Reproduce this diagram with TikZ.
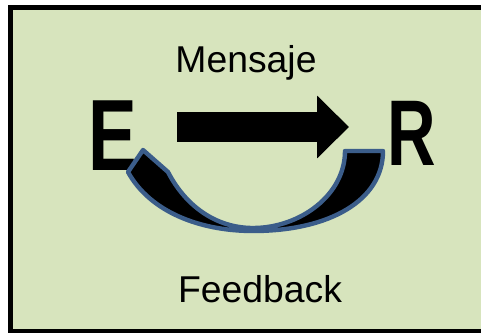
\documentclass[tikz,border=0pt]{standalone}
\usepackage{fontspec}
\setmainfont{Liberation Sans}
\usepackage{tikz}
\usetikzlibrary{arrows.meta}
\definecolor{paleolive}{RGB}{215,228,189}
\definecolor{steelblue}{RGB}{59,93,138}

\begin{document}
\begin{tikzpicture}[x=0.75pt, y=-0.75pt, font=\fontsize{28}{30}\selectfont]
%
\useasboundingbox (0,0) rectangle (481,332);
\clip (0,0) rectangle (481,332);

% FRAME
\draw [line width=3.75pt, fill=paleolive] (10.5,7.5) rectangle (520,331.5);

% SENDER
\node [inner sep=0pt, anchor=base, xscale=0.72, font=\fontsize{76}{80}\selectfont\bfseries] (E) at (112.5,170) {E};
% RECEIVER
\node [inner sep=0pt, anchor=base, xscale=0.72, font=\fontsize{70}{74}\selectfont\bfseries] (R) at (412,165) {R};

% LABELS
\node [inner sep=0pt, anchor=base] (msg) at (246,72) {Mensaje};
\node [inner sep=0pt, anchor=base] (fb) at (260,302) {Feedback};

\coordinate (msgstart) at (177,127);
\coordinate (msgend) at (349,127);

\draw [line width=22.5pt, line cap=butt, -{Triangle[length=24pt, width=45.75pt]}] (msgstart) -- (msgend);

% FEEDBACK CURVE
\draw [steelblue, line width=3.3pt, line join=round, fill=black] (143,150) -- (128,172) .. controls (150,212) and (200,231) .. (253,231) .. controls (330,231) and (383,200) .. (383,151) -- (345,151) .. controls (345,195) and (300,228) .. (253,228) .. controls (215,228) and (185,205) .. (168,172) -- cycle;
\end{tikzpicture}
\end{document}
